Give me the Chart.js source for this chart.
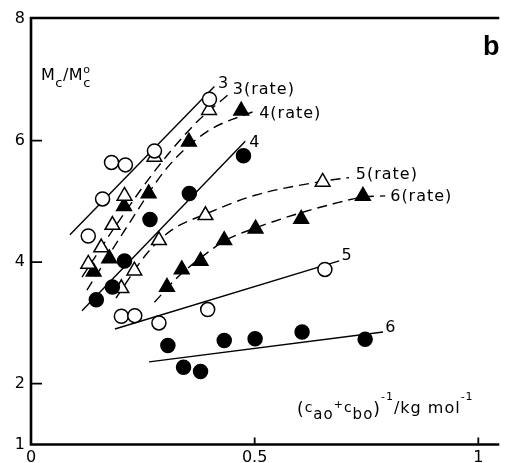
<!DOCTYPE html>
<html>
<head>
<meta charset="utf-8">
<script src="https://cdn.jsdelivr.net/npm/chart.js@4.4.0/dist/chart.umd.min.js"></script>
<style>
  html, body { margin: 0; padding: 0; background: #fff; }
  canvas { display: block; }
</style>
</head>
<body>
<canvas id="c" width="508" height="463"></canvas>
<script>
// Mc/Mc° against (c_ao + c_bo)^-1 in kg/mol, panel b
const X_TICKS = [0, 0.5, 1];
const Y_TICKS = [1, 2, 4, 6, 8];

// run 3: open circles with straight fit
const s3x = [0.128, 0.160, 0.180, 0.211, 0.276, 0.399];
const s3y = [4.43, 5.04, 5.64, 5.60, 5.83, 6.68];
const fit3x = [0.087, 0.410];
const fit3y = [4.45, 6.89];

// run 3 (rate): open triangles with dashed curve
const s3rx = [0.128, 0.157, 0.182, 0.209, 0.276, 0.398];
const s3ry = [3.97, 4.24, 4.61, 5.09, 5.73, 6.50];
const cur3rx = [0.114, 0.195, 0.282, 0.370, 0.440];
const cur3ry = [3.755, 4.66, 5.55, 6.30, 6.75];

// run 4 (rate): filled triangles with dashed curve
const s4rx = [0.140, 0.175, 0.208, 0.263, 0.353, 0.470];
const s4ry = [3.84, 4.06, 4.92, 5.13, 5.98, 6.49];
const cur4rx = [0.125, 0.217, 0.304, 0.392, 0.505];
const cur4ry = [3.54, 4.61, 5.55, 6.14, 6.50];

// run 4: filled circles with straight fit
const s4x = [0.146, 0.182, 0.209, 0.266, 0.354, 0.475];
const s4y = [3.38, 3.59, 4.02, 4.70, 5.13, 5.75];
const fit4x = [0.114, 0.479];
const fit4y = [3.20, 5.99];

// run 5 (rate): open triangles with dashed curve
const s5rx = [0.202, 0.231, 0.286, 0.390, 0.652];
const s5ry = [3.57, 3.86, 4.36, 4.77, 5.32];
const cur5rx = [0.190, 0.260, 0.315, 0.390, 0.501, 0.652, 0.711];
const cur5ry = [3.41, 4.15, 4.53, 4.79, 5.10, 5.33, 5.39];

// run 6 (rate): filled triangles with dashed curve
const s6rx = [0.304, 0.337, 0.379, 0.432, 0.502, 0.604, 0.742];
const s6ry = [3.59, 3.88, 4.02, 4.36, 4.55, 4.71, 5.09];
const cur6rx = [0.276, 0.326, 0.381, 0.435, 0.501, 0.589, 0.676, 0.742, 0.792];
const cur6ry = [3.34, 3.74, 4.08, 4.36, 4.56, 4.78, 4.96, 5.07, 5.09];

// run 5: open circles with straight fit
const s5x = [0.202, 0.232, 0.286, 0.395, 0.657];
const s5y = [3.11, 3.12, 3.00, 3.22, 3.88];
const fit5x = [0.1875, 0.689];
const fit5y = [2.90, 4.02];

// run 6: filled circles with straight fit
const s6x = [0.306, 0.341, 0.379, 0.432, 0.501, 0.606, 0.747];
const s6y = [2.63, 2.27, 2.20, 2.71, 2.74, 2.85, 2.73];
const fit6x = [0.264, 0.787];
const fit6y = [2.36, 2.85];

// curve labels: text, left edge (x value), vertical centre (y value)
const curveLabels = [
  ['3',       0.418, 6.93],
  ['3(rate)', 0.451, 6.83],
  ['4(rate)', 0.510, 6.44],
  ['4',       0.488, 5.96],
  ['5(rate)', 0.726, 5.43],
  ['6(rate)', 0.803, 5.08],
  ['5',       0.694, 4.10],
  ['6',       0.792, 2.92]
];

const FONT = '"DejaVu Sans", "Open Sans", sans-serif';
const pts = (xs, ys) => xs.map((v, i) => ({ x: v, y: ys[i] }));

const markers = (style, filled, radius, order) => ({
  showLine: false,
  pointStyle: style,
  pointRadius: radius,
  pointHoverRadius: radius,
  pointBackgroundColor: filled ? '#000' : '#fff',
  pointBorderColor: '#000',
  pointBorderWidth: 1.5,
  order
});
const line = (dashed) => ({
  showLine: true,
  pointRadius: 0,
  pointHoverRadius: 0,
  borderColor: '#000',
  borderWidth: 1.4,
  borderDash: dashed ? [10, 6] : [],
  cubicInterpolationMode: dashed ? 'monotone' : 'default',
  fill: false,
  order: 3
});

const datasets = [
  { data: pts(fit3x, fit3y), ...line(false) },
  { data: pts(fit4x, fit4y), ...line(false) },
  { data: pts(fit5x, fit5y), ...line(false) },
  { data: pts(fit6x, fit6y), ...line(false) },
  { data: pts(cur3rx, cur3ry), ...line(true) },
  { data: pts(cur4rx, cur4ry), ...line(true) },
  { data: pts(cur5rx, cur5ry), ...line(true) },
  { data: pts(cur6rx, cur6ry), ...line(true) },
  { data: pts(s3rx, s3ry), ...markers('triangle', false, 8.5, 2) },
  { data: pts(s4rx, s4ry), ...markers('triangle', true, 8.5, 2) },
  { data: pts(s5rx, s5ry), ...markers('triangle', false, 8.5, 2) },
  { data: pts(s6rx, s6ry), ...markers('triangle', true, 8.5, 2) },
  { data: pts(s3x, s3y), ...markers('circle', false, 7, 1) },
  { data: pts(s4x, s4y), ...markers('circle', true, 7, 1) },
  { data: pts(s5x, s5y), ...markers('circle', false, 7, 1) },
  { data: pts(s6x, s6y), ...markers('circle', true, 7, 1) }
];

// draws a run of text pieces [text, size, baselineShift]
function drawRuns(ctx, x, y, runs, spacing) {
  for (const r of runs) {
    const [t, size, dy, weight] = r;
    ctx.font = `${weight || 'normal'} ${size}px ${FONT}`;
    ctx.letterSpacing = spacing + 'px';
    ctx.fillText(t, x, y + dy);
    x += ctx.measureText(t).width;
  }
  return x;
}

const decor = {
  id: 'decor',
  afterDraw(chart) {
    const { ctx, chartArea: a, scales: { x, y } } = chart;
    ctx.save();
    ctx.strokeStyle = '#000';
    ctx.fillStyle = '#000';

    // frame: top, left and bottom edges
    ctx.lineWidth = 2.6;
    ctx.lineCap = 'square';
    ctx.beginPath();
    ctx.moveTo(a.right, a.top - 1);
    ctx.lineTo(a.left, a.top - 1);
    ctx.lineTo(a.left, a.bottom);
    ctx.lineTo(a.right, a.bottom);
    ctx.stroke();

    // inward tick marks
    ctx.lineWidth = 1.8;
    ctx.lineCap = 'butt';
    ctx.beginPath();
    for (const v of Y_TICKS) {
      if (v === 1 || v === 8) continue;
      const py = y.getPixelForValue(v);
      ctx.moveTo(a.left, py);
      ctx.lineTo(a.left + 11, py);
    }
    for (const v of X_TICKS) {
      if (v === 0) continue;
      const px = x.getPixelForValue(v);
      ctx.moveTo(px, a.bottom);
      ctx.lineTo(px, a.bottom - 7);
    }
    ctx.stroke();

    // curve labels
    ctx.textBaseline = 'middle';
    ctx.textAlign = 'left';
    ctx.font = `16px ${FONT}`;
    ctx.letterSpacing = '1px';
    for (const [t, lx, ly] of curveLabels) {
      ctx.fillText(t, x.getPixelForValue(lx), y.getPixelForValue(ly));
    }

    // y title  Mc/Mc°
    ctx.textBaseline = 'alphabetic';
    let px = drawRuns(ctx, a.left + 10, 80, [['M', 16, 0], ['c', 13, 7], ['/', 16, 0], ['M', 16, 0]], 0.5);
    ctx.font = `11px ${FONT}`;
    ctx.fillText('o', px, 73);
    ctx.font = `13px ${FONT}`;
    ctx.fillText('c', px, 87);

    // x title  (cao+cbo)^-1 / kg mol^-1
    drawRuns(ctx, 297, 413, [
      ['(', 17, 2], ['c', 14, -1], ['ao', 15, 6], ['+', 11, -5],
      ['c', 14, -1], ['bo', 15, 6], [')', 17, 2], ['-1', 11, -13],
      ['/kg mol', 16, 0], ['-1', 11, -13]
    ], 1);

    // panel letter
    ctx.letterSpacing = '0px';
    ctx.font = `bold 27px "Liberation Sans", Arial, sans-serif`;
    ctx.fillText('b', 483, 55);
    ctx.restore();
  }
};

new Chart(document.getElementById('c'), {
  type: 'scatter',
  data: { datasets },
  options: {
    responsive: false,
    animation: false,
    devicePixelRatio: 1,
    layout: { padding: { top: 19, right: 0, bottom: 0, left: 0 } },
    plugins: { legend: { display: false }, tooltip: { enabled: false } },
    events: [],
    scales: {
      x: {
        type: 'linear',
        min: 0,
        max: 1.044,
        afterBuildTicks: s => { s.ticks = X_TICKS.map(v => ({ value: v })); },
        afterFit: s => { s.height = 18.5; },
        grid: { display: false, drawTicks: false },
        border: { display: false },
        ticks: {
          padding: 4, color: '#000', maxRotation: 0,
          font: { family: FONT, size: 16 },
          callback: v => String(v)
        }
      },
      y: {
        type: 'linear',
        min: 1,
        max: 8,
        afterBuildTicks: s => { s.ticks = Y_TICKS.map(v => ({ value: v })); },
        afterFit: s => { s.width = 31; },
        grid: { display: false, drawTicks: false },
        border: { display: false },
        ticks: {
          padding: 6, color: '#000',
          font: { family: FONT, size: 16 },
          callback: v => String(v)
        }
      }
    }
  },
  plugins: [decor]
});
</script>
</body>
</html>
